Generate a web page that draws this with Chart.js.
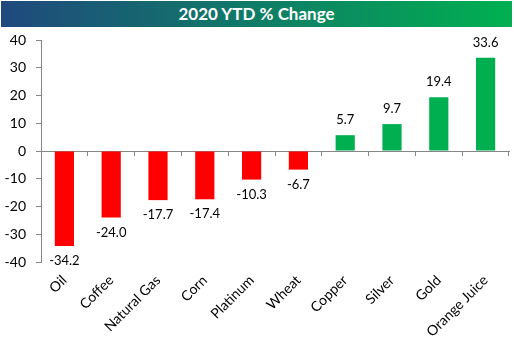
<!DOCTYPE html>
<html>
<head>
<meta charset="utf-8">
<script src="https://cdn.jsdelivr.net/npm/chart.js@4/dist/chart.umd.min.js"></script>
<style>
  html, body { margin: 0; padding: 0; background: #fff; }
  #wrap { position: relative; width: 514px; height: 348px; }
  #title {
    position: absolute; left: 1px; top: 1px; width: 511px; height: 26px;
    background: linear-gradient(to right, #1F497D, #00B050);
    color: #fff; font: bold 17px Lato, "Open Sans", sans-serif;
    text-align: center; line-height: 26px; z-index: 2;
  }
  canvas { position: absolute; left: 0; top: 0; }
</style>
</head>
<body>
<div id="wrap">
  <div id="title">2020 YTD % Change</div>
  <canvas id="c" width="514" height="348"></canvas>
</div>
<script>
const categories = ["Oil", "Coffee", "Natural Gas", "Corn", "Platinum", "Wheat", "Copper", "Silver", "Gold", "Orange Juice"];
const changes = [-34.2, -24.0, -17.7, -17.4, -10.3, -6.7, 5.7, 9.7, 19.4, 33.6];
const yTicks = [-40, -30, -20, -10, 0, 10, 20, 30, 40];

const axisColor = '#868686';
const fontFamily = 'Lato, "Open Sans", sans-serif';

const dataLabels = {
  id: 'dataLabels',
  afterDatasetsDraw(chart) {
    const ctx = chart.ctx;
    const meta = chart.getDatasetMeta(0);
    ctx.save();
    ctx.font = '13px ' + fontFamily;
    ctx.fillStyle = '#000';
    ctx.textAlign = 'center';
    ctx.textBaseline = 'middle';
    meta.data.forEach((bar, i) => {
      const v = changes[i];
      const y = v >= 0 ? bar.y - 15 : bar.y + 15;
      ctx.fillText(v.toFixed(1), bar.x, y);
    });
    ctx.restore();
  }
};

new Chart(document.getElementById('c'), {
  type: 'bar',
  data: {
    labels: categories,
    datasets: [{
      data: changes,
      backgroundColor: changes.map(v => v < 0 ? '#FF0000' : '#00B050'),
      barPercentage: 0.41,
      categoryPercentage: 1.0
    }]
  },
  options: {
    responsive: false,
    animation: false,
    layout: { padding: { top: 40, right: 5, left: 0, bottom: 0 } },
    plugins: { legend: { display: false }, tooltip: { enabled: false }, title: { display: false } },
    scales: {
      x: {
        position: 'bottom',
        border: { display: false },
        grid: { display: false, drawTicks: false },
        ticks: {
          color: '#000',
          font: { family: fontFamily, size: 14 },
          minRotation: 45, maxRotation: 45,
          padding: 10,
          autoSkip: false
        },
        afterFit(scale) { scale.height = 86; }
      },
      xZero: {
        type: 'category',
        labels: categories,
        position: { y: 0 },
        offset: true,
        border: { display: true, color: axisColor, width: 1 },
        grid: { display: true, drawOnChartArea: false, drawTicks: true, tickLength: 4, color: axisColor, offset: true },
        ticks: { display: false }
      },
      y: {
        min: -40, max: 40,
        afterBuildTicks(scale) { scale.ticks = yTicks.map(v => ({ value: v })); },
        border: { display: true, color: axisColor, width: 1 },
        grid: { display: true, drawOnChartArea: false, drawTicks: true, tickLength: 5, color: axisColor },
        ticks: {
          color: '#000',
          font: { family: fontFamily, size: 14 },
          padding: 10
        },
        afterFit(scale) { scale.width = 41; }
      }
    }
  },
  plugins: [dataLabels]
});
</script>
</body>
</html>
